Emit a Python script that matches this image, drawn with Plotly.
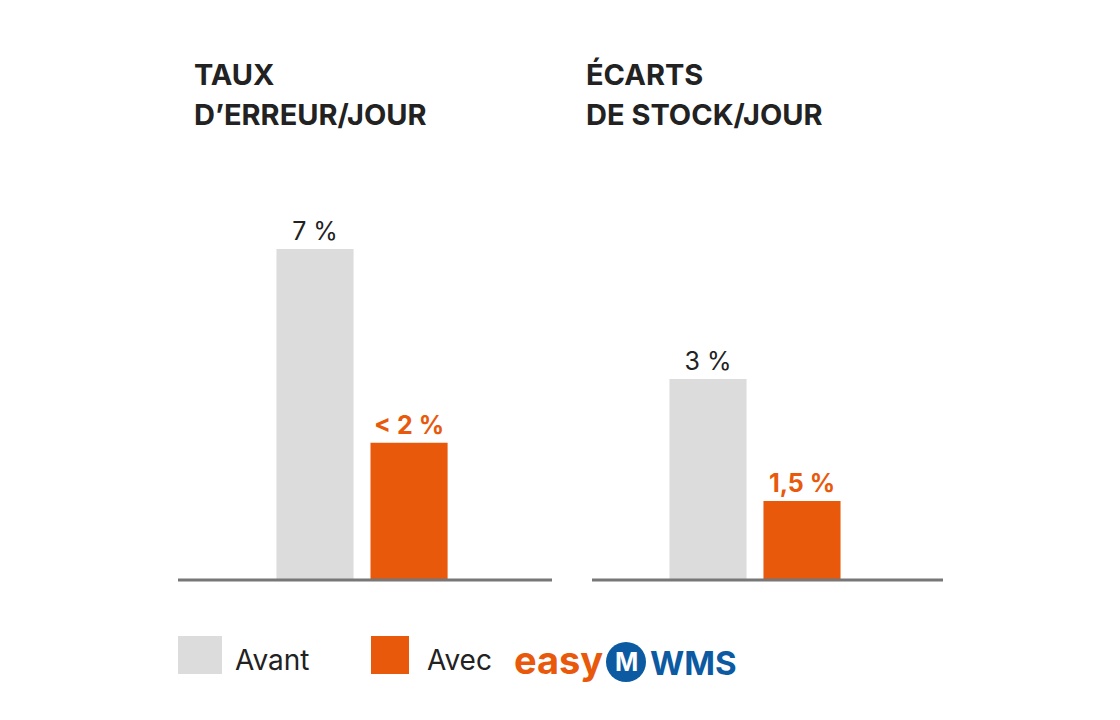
import plotly.graph_objects as go

categories = ["Avant", "Avec"]
err_heights = [7, 2.9]        # visual bar heights
err_labels = ["7 %", "<b>< 2 %</b>"]
stock_heights = [4.25, 1.67]
stock_labels = ["3 %", "<b>1,5 %</b>"]
colors = ["#dcdcdc", "#e8590c"]
W, H = 1120, 720
OFF = 8
def px(x): return (x - OFF) / W
def py(y): return 1 - (y - OFF) / H

fig = go.Figure()
for i, (h, lab, xa, ya) in enumerate([(err_heights, err_labels, "x", "y"), (stock_heights, stock_labels, "x2", "y2")]):
    fig.add_trace(go.Bar(x=categories, y=h, text=lab, textposition="outside", cliponaxis=False,
                         marker=dict(color=colors, line=dict(width=0)),
                         textfont=dict(color=["#222222", "#e8590c"], size=25, family="Inter"),
                         xaxis=xa, yaxis=ya, showlegend=False))

ydom = [py(580), py(107)]
fig.update_layout(width=W, height=H, margin=dict(l=0, r=0, t=0, b=0), plot_bgcolor="white", paper_bgcolor="white",
                  bargap=0.18, font=dict(family="Inter"),
                  xaxis=dict(domain=[px(178), px(552)], range=[-1.457, 2.52], showticklabels=False, showgrid=False, zeroline=False),
                  xaxis2=dict(domain=[px(592), px(943)], range=[-1.234, 2.5], showticklabels=False, showgrid=False, zeroline=False),
                  yaxis=dict(domain=ydom, range=[0, 10], visible=False),
                  yaxis2=dict(domain=ydom, range=[0, 10], visible=False, anchor="x2"))
for x0, x1 in [(178, 552), (592, 943)]:
    fig.add_shape(type="line", xref="paper", yref="paper", x0=px(x0), x1=px(x1), y0=py(580), y1=py(580), line=dict(color="#777777", width=3))
for x, lines in [(192, ["TAUX", "D’ERREUR/JOUR"]), (584, ["ÉCARTS", "DE STOCK/JOUR"])]:
    for j, t in enumerate(lines):
        fig.add_annotation(text="<b>" + t + "</b>", xref="paper", yref="paper", x=px(x), y=py(74 + 40 * j), xanchor="left", yanchor="middle",
                           showarrow=False, font=dict(size=29, color="#222222", family="Inter"))
fig.add_shape(type="rect", xref="paper", yref="paper", x0=px(178), x1=px(222), y0=py(674), y1=py(636), fillcolor="#dcdcdc", line_width=0)
fig.add_shape(type="rect", xref="paper", yref="paper", x0=px(371), x1=px(409), y0=py(674), y1=py(636), fillcolor="#e8590c", line_width=0)
for x, t in [(233, "Avant"), (425, "Avec")]:
    fig.add_annotation(text=t, xref="paper", yref="paper", x=px(x), y=py(660), xanchor="left", yanchor="middle",
                       showarrow=False, font=dict(size=28, color="#222222", family="Inter"))
fig.add_annotation(text="<b>easy</b>", xref="paper", yref="paper", x=px(512), y=py(660), xanchor="left", yanchor="middle",
                   showarrow=False, font=dict(size=38, color="#e8590c", family="Inter"))
fig.add_shape(type="circle", xref="paper", yref="paper", x0=px(606), x1=px(646), y0=py(682), y1=py(642), fillcolor="#0b5aa2", line_width=0)
fig.add_annotation(text="<b>M</b>", xref="paper", yref="paper", x=px(626), y=py(662), xanchor="center", yanchor="middle",
                   showarrow=False, font=dict(size=25, color="white", family="Inter"))
fig.add_annotation(text="<b>WMS</b>", xref="paper", yref="paper", x=px(648), y=py(663), xanchor="left", yanchor="middle",
                   showarrow=False, font=dict(size=33, color="#0b5aa2", family="Inter"))
fig.write_html("out.html")
